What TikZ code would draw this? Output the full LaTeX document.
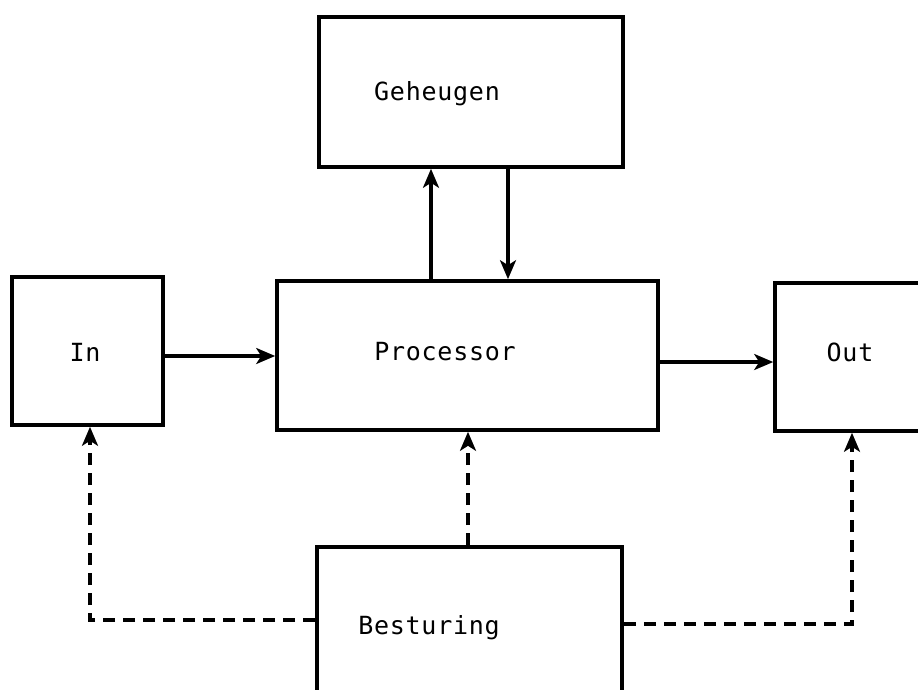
\documentclass[tikz,border=0pt]{standalone}
\usepackage{fontspec}
\newfontfamily\labelfont[LetterSpace=3]{DejaVu Sans Mono}
\usetikzlibrary{arrows.meta}

\tikzset{
  unitbox/.style={draw, line width=3.6pt, inner sep=0pt, rectangle},
  boxtext/.style={inner sep=0pt, anchor=center, font=\labelfont\fontsize{25}{30}\selectfont},
  flow/.style={line width=3.2pt, -{Stealth[length=19pt,width=16pt,inset=5pt]}},
  ctrl/.style={flow, dash pattern=on 12pt off 8pt}
}

\begin{document}
\begin{tikzpicture}[x=1pt, y=-1pt]
  \clip (0,0) rectangle (918,689);
  \fill[white] (0,0) rectangle (918,689);

  % blocks
  \node[unitbox, minimum width=304pt, minimum height=150pt] (geh)  at (471,92)    {};
  \node[unitbox, minimum width=151pt, minimum height=148pt] (in)   at (87.5,351)  {};
  \node[unitbox, minimum width=381pt, minimum height=149pt] (proc) at (467.5,355.5) {};
  \node[unitbox, minimum width=150pt, minimum height=148pt] (out)  at (850,357)   {};
  \node[unitbox, minimum width=305pt, minimum height=150pt] (best) at (469.5,622) {};

  % labels
  \node[boxtext] (tgeh)  at (437,94)  {Geheugen};
  \node[boxtext] (tin)   at (85,352)  {In};
  \node[boxtext] (tproc) at (445,352) {Processor};
  \node[boxtext] (tout)  at (850,352) {Out};
  \node[boxtext] (tbest) at (429,628) {Besturing};

  % data paths
  \draw[flow] ([xshift=-36.5pt]proc.north) -- ([xshift=-36.5pt]proc.north |- geh.south);
  \draw[flow] ([xshift=37pt]geh.south) -- ([xshift=37pt]geh.south |- proc.north);
  \draw[flow] ([yshift=-5pt]in.east) -- ([yshift=-5pt]in.east -| proc.west);
  \draw[flow] ([yshift=-6.5pt]proc.east) -- ([yshift=-6.5pt]proc.east -| out.west);

  % control paths
  \draw[ctrl] ([xshift=-1.5pt]best.north) -- ([xshift=-1.5pt]best.north |- proc.south);
  \draw[ctrl] ([yshift=2pt]best.west) -| ([xshift=2.5pt]in.south);
  \draw[ctrl] ([yshift=-2pt]best.east) -| ([xshift=2pt]out.south);
\end{tikzpicture}
\end{document}
